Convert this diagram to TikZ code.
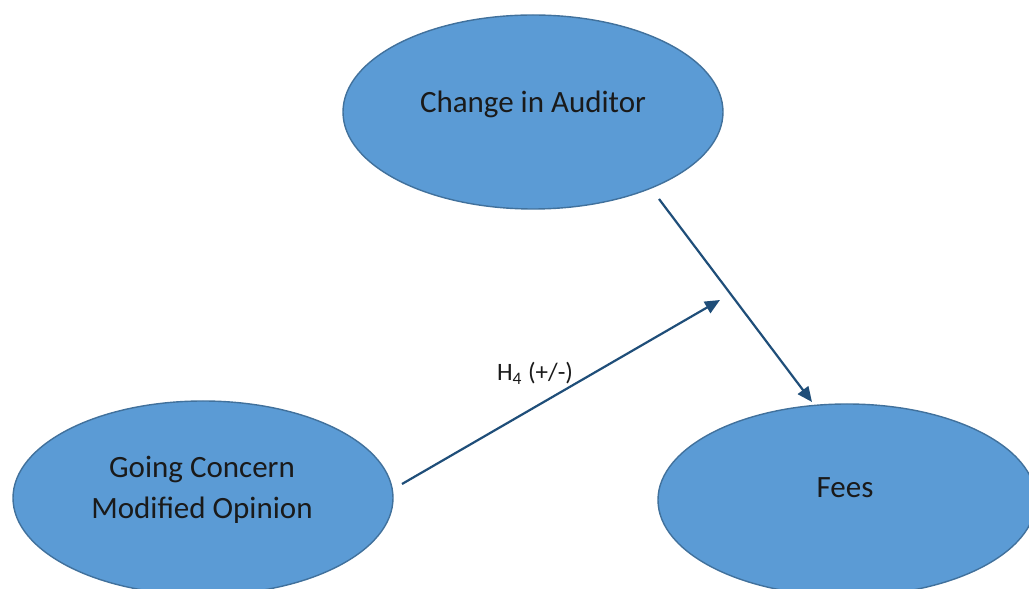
\documentclass[tikz,border=0pt]{standalone}
\usepackage{fontspec}
\setmainfont{Carlito}
\usetikzlibrary{shapes.geometric,arrows.meta}
\definecolor{bubblefill}{HTML}{5B9BD5}
\definecolor{bubbleedge}{HTML}{41719C}
\definecolor{linkcol}{HTML}{1F4E79}
\definecolor{inkcol}{HTML}{1A1A1A}
\tikzset{
  bubble/.style={ellipse, draw=bubbleedge, fill=bubblefill, line width=0.7pt,
    minimum width=#1, inner sep=0pt},
  bubbletext/.style={anchor=base, text=inkcol, font=\fontsize{15.5}{20.5}\selectfont},
  link/.style={draw=linkcol, line width=1.1pt, -{Triangle[length=7.5pt,width=6.5pt]}},
  linklabel/.style={anchor=base west, text=inkcol, font=\fontsize{12.5}{15}\selectfont}
}
\begin{document}
\begin{tikzpicture}[x=0.5pt,y=0.5pt]
  \useasboundingbox (0,0) rectangle (1029,589);
  % variables
  \node[bubble=190pt, minimum height=97pt] (auditor) at (533,477) {};
  \node[bubble=190pt, minimum height=97pt] (gcmo) at (203,91) {};
  \node[bubble=189pt, minimum height=96pt] (fees) at (847,89) {};
  \node[bubbletext] (auditor-t) at (533,476) {Change in Auditor};
  \node[bubbletext] (gcmo-t1) at (202,111) {Going Concern};
  \node[bubbletext] (gcmo-t2) at (202,70) {Modified Opinion};
  \node[bubbletext] (fees-t) at (845,91) {Fees};
  % connectors
  \coordinate (auditor-out) at (659,390);
  \coordinate (fees-in) at (812,187);
  \coordinate (gcmo-out) at (402,105);
  \coordinate (moderation) at (720,289);
  \draw[link] (auditor-out) -- (fees-in);
  \draw[link] (gcmo-out) -- (moderation);
  \node[linklabel] (h4) at (490,208) {H\textsubscript{4} (+/-)};
\end{tikzpicture}
\end{document}
